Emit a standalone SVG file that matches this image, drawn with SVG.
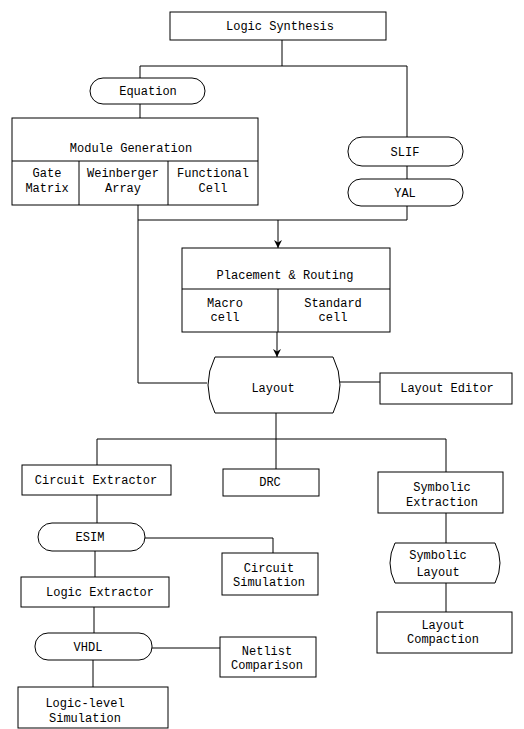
<svg xmlns="http://www.w3.org/2000/svg" width="524" height="729" viewBox="0 0 524 729">
<defs>
<marker id="arr" viewBox="0 0 10 10" refX="10" refY="5" markerWidth="8" markerHeight="8" markerUnits="userSpaceOnUse" orient="auto">
<path d="M0,0 L10,5 L0,10 L3,5 Z" fill="#000"/>
</marker>
<style>
.n rect,.n path{fill:#fff;stroke:#000;stroke-width:1}
.c path{fill:none;stroke:#000;stroke-width:1}
text{font-family:"Liberation Mono","DejaVu Sans Mono",monospace;font-size:12px;fill:#000;text-anchor:middle}
</style>
</defs>
<g class="c" id="connectors">
<path d="M282,40 V66"/>
<path d="M140,66 H407"/>
<path d="M140,66 V78"/>
<path d="M407,66 V137"/>
<path d="M140,104 V118"/>
<path d="M407,166 V179"/>
<path d="M407,206 V220 H138"/>
<path d="M138,205 V383 H207"/>
<path d="M278,220 V248" marker-end="url(#arr)"/>
<path d="M277,332 V357" marker-end="url(#arr)"/>
<path d="M340,382 H380"/>
<path d="M276,413 V439"/>
<path d="M97,439 H446"/>
<path d="M97,439 V465"/>
<path d="M276,439 V469"/>
<path d="M446,439 V472"/>
<path d="M97,495 V523"/>
<path d="M145,538 H273 V553"/>
<path d="M95,551 V577"/>
<path d="M446,513 V543"/>
<path d="M446,583 V612"/>
<path d="M94,607 V633"/>
<path d="M152,648 H220"/>
<path d="M93,660 V687"/>
</g>
<g class="n" id="logic-synthesis">
<rect x="170" y="12" width="216" height="28"/>
<text x="280" y="30">Logic Synthesis</text>
</g>
<g class="n" id="equation">
<rect x="90" y="78" width="115" height="26" rx="13"/>
<text x="148" y="95">Equation</text>
</g>
<g class="n" id="module-generation">
<rect x="12" y="118" width="246" height="87"/>
<path d="M12,161 H258 M79,161 V205 M168,161 V205"/>
<text x="131" y="152">Module Generation</text>
<text x="47" y="177">Gate</text>
<text x="47" y="192">Matrix</text>
<text x="123" y="177">Weinberger</text>
<text x="123" y="192">Array</text>
<text x="213" y="177">Functional</text>
<text x="213" y="192">Cell</text>
</g>
<g class="n" id="slif">
<rect x="348" y="137" width="115" height="29" rx="14"/>
<text x="405" y="156">SLIF</text>
</g>
<g class="n" id="yal">
<rect x="348" y="179" width="115" height="27" rx="13"/>
<text x="405" y="197">YAL</text>
</g>
<g class="n" id="placement-routing">
<rect x="182" y="248" width="208" height="84"/>
<path d="M182,289 H390 M278,289 V332"/>
<text x="285" y="279">Placement &amp; Routing</text>
<text x="225" y="307">Macro</text>
<text x="225" y="321">cell</text>
<text x="333" y="307">Standard</text>
<text x="333" y="321">cell</text>
</g>
<g class="n" id="layout">
<path d="M215,357 L333,357 Q347,385 333,413 L215,413 Q201,385 215,357 Z"/>
<text x="273" y="392">Layout</text>
</g>
<g class="n" id="layout-editor">
<rect x="380" y="373" width="132" height="31"/>
<text x="447" y="392">Layout Editor</text>
</g>
<g class="n" id="circuit-extractor">
<rect x="22" y="465" width="149" height="30"/>
<text x="96" y="484">Circuit Extractor</text>
</g>
<g class="n" id="drc">
<rect x="223" y="469" width="96" height="27"/>
<text x="270" y="486">DRC</text>
</g>
<g class="n" id="symbolic-extraction">
<rect x="378" y="472" width="125" height="41"/>
<text x="442" y="491">Symbolic</text>
<text x="442" y="506">Extraction</text>
</g>
<g class="n" id="esim">
<rect x="38" y="523" width="107" height="28" rx="14"/>
<text x="90" y="541">ESIM</text>
</g>
<g class="n" id="circuit-simulation">
<rect x="222" y="553" width="96" height="42"/>
<text x="269" y="572">Circuit</text>
<text x="269" y="586">Simulation</text>
</g>
<g class="n" id="logic-extractor">
<rect x="21" y="577" width="148" height="30"/>
<text x="100" y="596">Logic Extractor</text>
</g>
<g class="n" id="symbolic-layout">
<path d="M395,543 L495,543 Q505,563 495,583 L395,583 Q385,563 395,543 Z"/>
<text x="438" y="559">Symbolic</text>
<text x="438" y="576">Layout</text>
</g>
<g class="n" id="layout-compaction">
<rect x="377" y="612" width="135" height="41"/>
<text x="443" y="629">Layout</text>
<text x="443" y="643">Compaction</text>
</g>
<g class="n" id="vhdl">
<rect x="35" y="633" width="117" height="27" rx="13"/>
<text x="88" y="651">VHDL</text>
</g>
<g class="n" id="netlist-comparison">
<rect x="220" y="637" width="96" height="40"/>
<text x="267" y="655">Netlist</text>
<text x="267" y="669">Comparison</text>
</g>
<g class="n" id="logic-level-simulation">
<rect x="18" y="687" width="150" height="41"/>
<text x="85" y="707">Logic-level</text>
<text x="85" y="722">Simulation</text>
</g>
</svg>
